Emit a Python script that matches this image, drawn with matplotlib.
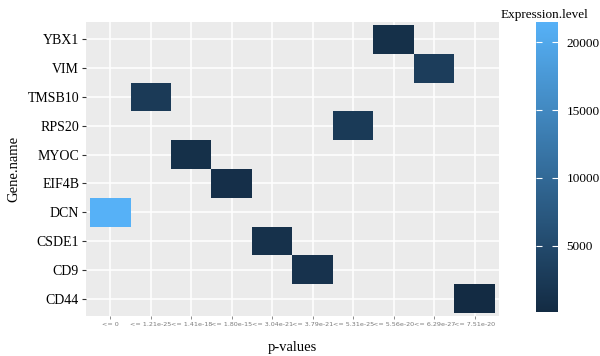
import numpy as np
import matplotlib
matplotlib.use("Agg")
import matplotlib.pyplot as plt
from matplotlib.colors import LinearSegmentedColormap, Normalize

# ---- data ----
genes = ["CD44", "CD9", "CSDE1", "DCN", "EIF4B", "MYOC", "RPS20", "TMSB10", "VIM", "YBX1"]
pvals = ["<= 0", "<= 1.21e-25", "<= 1.41e-18", "<= 1.80e-15", "<= 3.04e-21",
         "<= 3.79e-21", "<= 5.31e-25", "<= 5.56e-20", "<= 6.29e-27", "<= 7.51e-20"]
tile_gene = ["DCN", "TMSB10", "MYOC", "EIF4B", "CSDE1", "CD9", "RPS20", "YBX1", "VIM", "CD44"]
tile_pval = pvals
tile_expr = [21500, 2600, 900, 800, 1100, 1300, 2500, 900, 3000, 100]

serif = ["Liberation Serif", "DejaVu Serif"]

mat = np.full((len(genes), len(pvals)), np.nan)
for g, p, v in zip(tile_gene, tile_pval, tile_expr):
    mat[genes.index(g), pvals.index(p)] = v

cmap = LinearSegmentedColormap.from_list("gg", ["#132B43", "#56B1F7"])
norm = Normalize(vmin=min(tile_expr), vmax=max(tile_expr))

fig = plt.figure(figsize=(6.0, 3.56), dpi=100)
ax = fig.add_axes([0.1433, 0.1124, 0.6883, 0.8258])
ax.set_facecolor("#EBEBEB")
for s in ax.spines.values():
    s.set_visible(False)

ax.set_xticks(range(len(pvals)))
ax.set_yticks(range(len(genes)))
ax.grid(True, color="white", linewidth=1.1)
ax.set_axisbelow(True)

x_edges = np.arange(len(pvals) + 1) - 0.5
y_edges = np.arange(len(genes) + 1) - 0.5
mesh = ax.pcolormesh(x_edges, y_edges, np.ma.masked_invalid(mat), cmap=cmap, norm=norm, zorder=2)

ax.set_xlim(-0.6, len(pvals) - 0.4)
ax.set_ylim(-0.6, len(genes) - 0.4)

ax.set_xticklabels(pvals, fontsize=4.6, color="#7a7a7a", family="DejaVu Sans")
ax.set_yticklabels(genes, fontsize=10, color="black", family=serif)
ax.tick_params(axis="x", length=2.5, width=0.6, color="#7a7a7a", pad=2)
ax.tick_params(axis="y", length=3, width=0.8, color="#333333", pad=2)

ax.set_xlabel("p-values", fontsize=10.5, family=serif, labelpad=10)
ax.set_ylabel("Gene.name", fontsize=10.5, family=serif, labelpad=5)

cax = fig.add_axes([0.8933, 0.1236, 0.0367, 0.8146])
cb = fig.colorbar(mesh, cax=cax)
cb.outline.set_visible(False)
cb.set_ticks([5000, 10000, 15000, 20000])
cax.tick_params(axis="y", direction="in", color="white", length=4, width=0.8,
                left=True, right=True, labelsize=9.5, pad=6)
for lab in cax.get_yticklabels():
    lab.set_family(serif)
fig.text(0.835, 0.975, "Expression.level", ha="left", va="top", fontsize=9.5, family=serif)

fig.savefig("out.png", dpi=100)
